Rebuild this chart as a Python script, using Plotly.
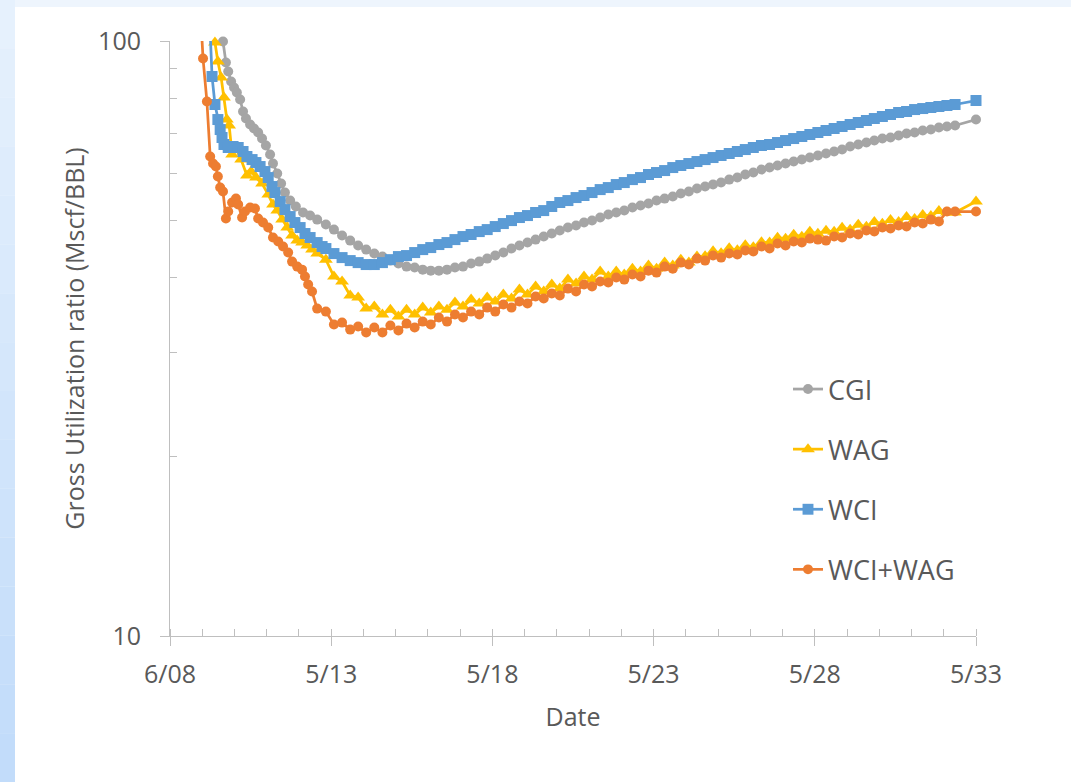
import plotly.graph_objects as go
from datetime import datetime, timedelta

# ---------------- data ----------------
# early (irregular) report times, decimal years
cgi_early_years = [2010.06, 2010.15, 2010.22, 2010.31, 2010.40, 2010.49, 2010.59, 2010.68, 2010.77, 2010.90,
                   2011.02, 2011.15, 2011.27, 2011.39, 2011.52, 2011.61, 2011.74, 2011.86, 2011.98, 2012.14,
                   2012.32, 2012.54, 2012.76, 2012.98]
cgi_early_values = [99.8, 92.02, 88.87, 85.50, 83.53, 81.94, 79.73, 76.12, 74.08, 72.39,
                    71.27, 70.18, 68.56, 66.74, 64.45, 62.24, 59.88, 57.60, 55.63, 53.93,
                    52.70, 51.49, 50.89, 50.10]

wag_early_years = [2009.81, 2009.90, 2010.00, 2010.09, 2010.18, 2010.25, 2010.34, 2010.46, 2010.62, 2010.80,
                   2010.93, 2011.08, 2011.27, 2011.46, 2011.61, 2011.74, 2011.89, 2012.05, 2012.20, 2012.36,
                   2012.51, 2012.67, 2012.82, 2012.98]
wag_early_values = [99.44, 92.37, 86.83, 80.36, 73.79, 72.11, 64.45, 65.96, 63.20, 59.41,
                    60.34, 58.95, 57.60, 55.20, 53.11, 51.88, 50.10, 48.58, 47.10, 46.19,
                    45.84, 45.31, 44.61, 43.93]

wci_early_years = [2009.63, 2009.72, 2009.81, 2009.90, 2009.97, 2010.03, 2010.09, 2010.22, 2010.37, 2010.53,
                   2010.68, 2010.80, 2010.96, 2011.08, 2011.21, 2011.36, 2011.46, 2011.58, 2011.67, 2011.83,
                   2011.98, 2012.14, 2012.29, 2012.45, 2012.60, 2012.76, 2012.98, 2013.13]
wci_early_values = [113.0, 87.17, 78.21, 73.79, 70.99, 68.83, 67.00, 66.22, 66.48, 66.22,
                    65.20, 63.95, 63.20, 62.48, 61.52, 60.34, 58.95, 56.94, 55.63, 53.72,
                    52.08, 50.69, 49.53, 48.58, 47.47, 46.74, 45.84, 45.14]

wcig_early_years = [2009.35, 2009.44, 2009.56, 2009.66, 2009.75, 2009.84, 2009.90, 2009.97, 2010.06, 2010.15,
                    2010.22, 2010.34, 2010.46, 2010.53, 2010.65, 2010.74, 2010.90, 2011.05, 2011.15, 2011.30,
                    2011.46, 2011.61, 2011.77, 2011.92, 2012.08, 2012.20, 2012.36, 2012.51, 2012.60, 2012.70,
                    2012.82, 2012.98]
wcig_early_values = [115.0, 93.45, 79.12, 63.95, 62.24, 61.52, 59.18, 56.71, 55.84, 50.30,
                     51.68, 53.52, 54.34, 53.11, 50.50, 51.68, 52.49, 52.29, 50.30, 49.53,
                     48.58, 46.74, 46.02, 45.14, 44.10, 42.58, 41.77, 41.28, 40.19, 38.96,
                     37.92, 35.50]

# quarterly report dates (shared)
quarter_dates = [
    "2013-04", "2013-07", "2013-10",
    "2014-01", "2014-04", "2014-07", "2014-10",
    "2015-01", "2015-04", "2015-07", "2015-10",
    "2016-01", "2016-04", "2016-07", "2016-10",
    "2017-01", "2017-04", "2017-07", "2017-10",
    "2018-01", "2018-04", "2018-07", "2018-10",
    "2019-01", "2019-04", "2019-07", "2019-10",
    "2020-01", "2020-04", "2020-07", "2020-10",
    "2021-01", "2021-04", "2021-07", "2021-10",
    "2022-01", "2022-04", "2022-07", "2022-10",
    "2023-01", "2023-04", "2023-07", "2023-10",
    "2024-01", "2024-04", "2024-07", "2024-10",
    "2025-01", "2025-04", "2025-07", "2025-10",
    "2026-01", "2026-04", "2026-07", "2026-10",
    "2027-01", "2027-04", "2027-07", "2027-10",
    "2028-01", "2028-04", "2028-07", "2028-10",
    "2029-01", "2029-04", "2029-07", "2029-10",
    "2030-01", "2030-04", "2030-07", "2030-10",
    "2031-01", "2031-04", "2031-07", "2031-10",
    "2032-01", "2032-04", "2032-07", "2032-10",
    "2033-05-26",
]

cgi_q = [49.15, 48.20, 47.10,
         46.19, 45.31, 44.61, 43.93,
         43.42, 42.75, 42.26, 41.77,
         41.61, 41.28, 41.12, 41.12,
         41.28, 41.61, 41.77, 42.26,
         42.58, 43.08, 43.59, 44.10,
         44.79, 45.31, 45.84, 46.37,
         46.92, 47.47, 48.02, 48.58,
         48.96, 49.53, 49.91, 50.50,
         51.09, 51.49, 51.88, 52.49,
         52.90, 53.31, 53.93, 54.34,
         54.77, 55.41, 55.84, 56.49,
         56.94, 57.38, 57.82, 58.49,
         58.95, 59.65, 60.11, 60.80,
         61.28, 61.76, 62.24, 62.72,
         63.20, 63.70, 64.20, 64.70,
         65.20, 65.70, 66.48, 67.00,
         67.51, 68.03, 68.56, 68.83,
         69.37, 69.91, 70.18, 70.72,
         70.99, 71.55, 71.83, 72.11,
         73.79]

wag_q = [42.91, 40.19, 39.42,
         37.34, 37.05, 35.50, 35.78,
         34.69, 35.36, 34.42, 35.36,
         34.69, 35.64, 34.96, 35.78,
         35.36, 36.34, 35.78, 36.76,
         36.20, 37.05, 36.48, 37.49,
         36.91, 38.21, 37.49, 38.66,
         37.92, 38.97, 38.36, 39.72,
         39.12, 40.19, 39.72, 40.97,
         40.19, 40.97, 40.50, 41.44,
         40.97, 41.93, 41.44, 42.42,
         41.93, 42.91, 42.42, 43.42,
         43.48, 44.33, 43.99, 44.84,
         44.50, 45.36, 45.01, 45.89,
         45.84, 46.72, 46.54, 47.25,
         46.89, 47.80, 47.44, 47.99,
         47.80, 48.53, 48.17, 49.09,
         48.72, 49.66, 49.28, 50.04,
         49.66, 50.61, 50.23, 51.00,
         50.80, 51.79, 51.49, 51.49,
         53.72]

wci_q = [44.79, 43.93, 43.25,
         42.75, 42.42, 42.10, 42.10,
         42.42, 42.91, 43.42, 43.59,
         44.10, 44.61, 44.96, 45.49,
         45.84, 46.37, 46.92, 47.29,
         47.83, 48.20, 48.77, 49.34,
         49.91, 50.50, 50.89, 51.49,
         51.88, 52.70, 53.52, 53.93,
         54.56, 54.99, 55.63, 56.27,
         56.71, 57.38, 57.82, 58.49,
         58.95, 59.65, 60.11, 60.57,
         61.28, 61.76, 62.24, 62.72,
         63.20, 63.70, 64.20, 64.70,
         65.20, 65.70, 66.22, 66.74,
         67.00, 67.51, 68.03, 68.56,
         69.10, 69.64, 70.18, 70.72,
         71.27, 71.83, 72.39, 72.95,
         73.51, 74.08, 74.66, 75.25,
         75.83, 76.12, 76.70, 77.00,
         77.31, 77.61, 77.91, 78.21,
         79.43]

wcig_q = [35.09, 33.38, 33.63,
          32.73, 33.12, 32.36, 32.99,
          32.36, 33.25, 32.61, 33.50,
          32.99, 33.76, 33.38, 34.29,
          33.76, 34.69, 34.29, 35.09,
          34.69, 35.64, 35.09, 36.06,
          35.64, 36.48, 36.20, 37.20,
          36.91, 37.63, 37.34, 38.36,
          37.92, 38.97, 38.66, 39.42,
          39.27, 40.03, 39.72, 40.50,
          40.19, 41.12, 40.81, 41.77,
          41.44, 42.42, 42.10, 43.08,
          42.75, 43.59, 43.25, 43.93,
          43.76, 44.44, 44.27, 45.14,
          44.79, 45.67, 45.31, 46.02,
          45.84, 46.55, 46.37, 46.19,
          46.92, 46.74, 47.47, 47.29,
          48.02, 47.83, 48.58, 48.39,
          48.96, 48.77, 49.53, 49.34,
          50.10, 49.72, 51.68, 51.68,
          51.68]

series_names = ["CGI", "WAG", "WCI", "WCI+WAG"]
y_tick_values = [10, 100]
y_minor_values = [20, 30, 40, 50, 60, 70, 80, 90]


def to_dates(years):
    out = []
    for d in years:
        y = int(d)
        out.append((datetime(y, 1, 1) + timedelta(days=(d - y) * 365.25)).strftime("%Y-%m-%d"))
    return out


series = [
    (series_names[0], cgi_early_years, cgi_early_values, cgi_q, "#A5A5A5", "circle", 10),
    (series_names[1], wag_early_years, wag_early_values, wag_q, "#FFC000", "triangle-up", 12),
    (series_names[2], wci_early_years, wci_early_values, wci_q, "#5B9BD5", "square", 11),
    (series_names[3], wcig_early_years, wcig_early_values, wcig_q, "#ED7D31", "circle", 10),
]

fig = go.Figure()
for i, (name, ey, ev, qv, color, symbol, msize) in enumerate(series):
    xs = to_dates(ey) + quarter_dates
    ys = ev + qv
    sizes = [0 if v > 100 else msize for v in ys]
    fig.add_trace(go.Scatter(
        x=xs, y=ys, name=name, mode="lines+markers",
        line=dict(color=color, width=2.75),
        marker=dict(color=color, symbol=symbol, size=sizes, opacity=1, line=dict(width=0)),
        cliponaxis=False, legendgroup=f"g{i}",
    ))

# ---------------- background ----------------
W, H = 1071, 782
L, R, T, B = 170, 95, 41, 146
pw, ph = W - L - R, H - T - B


def px_x(p):
    return (p - L) / pw


def px_y(p):
    return (H - B - p) / ph


shapes = []
n = 16
for k in range(n):
    f = k / (n - 1)
    r = int(0xe6 + (0xc2 - 0xe6) * f)
    g = int(0xf1 + (0xdc - 0xf1) * f)
    b = int(0xfd + (0xfa - 0xfd) * f)
    shapes.append(dict(type="rect", xref="paper", yref="paper",
                       x0=px_x(0), x1=px_x(15), y0=px_y(H * (k + 1) / n), y1=px_y(H * k / n),
                       fillcolor=f"rgb({r},{g},{b})", line=dict(width=0), layer="below"))
shapes.append(dict(type="rect", xref="paper", yref="paper",
                   x0=px_x(15), x1=px_x(W + 2), y0=px_y(H + 2), y1=px_y(7),
                   fillcolor="white", line=dict(width=0), layer="below"))

axis_color = "#BFBFBF"
text_color = "#595959"
fig.update_layout(
    width=W, height=H,
    margin=dict(l=L, r=R, t=T, b=B, autoexpand=False),
    paper_bgcolor="#eef5fd", plot_bgcolor="white",
    font=dict(family="Open Sans", color=text_color, size=25),
    shapes=shapes,
    showlegend=True,
    legend=dict(x=px_x(788), y=px_y(365), xanchor="left", yanchor="top",
                bgcolor="rgba(0,0,0,0)", font=dict(size=27, color=text_color),
                traceorder="grouped", tracegroupgap=22),
    xaxis=dict(
        type="date", range=["2008-06-01", "2033-05-26"],
        tick0="2008-06-01", dtick=1825 * 86400000, tickformat="%-m/%y",
        showgrid=False, zeroline=False, showline=True, linecolor=axis_color, linewidth=1,
        ticks="outside", ticklen=9, tickcolor=axis_color, tickwidth=1,
        ticklabelstandoff=7,
        minor=dict(tick0="2008-06-01", dtick=365 * 86400000, ticks="inside", ticklen=7,
                   tickcolor=axis_color, tickwidth=1, showgrid=False),
        title=dict(text="Date", standoff=19, font=dict(size=25, color=text_color)),
        tickfont=dict(size=25, color=text_color),
    ),
    yaxis=dict(
        type="log", range=[1, 2],
        tickmode="array", tickvals=y_tick_values,
        showgrid=False, zeroline=False, showline=True, linecolor=axis_color, linewidth=1,
        ticks="outside", ticklen=9, tickcolor=axis_color, tickwidth=1,
        ticklabelstandoff=14,
        minor=dict(tickmode="array", tickvals=y_minor_values, ticks="inside", ticklen=7,
                   tickcolor=axis_color, tickwidth=1, showgrid=False),
        title=dict(text="Gross Utilization ratio (Mscf/BBL)", standoff=6,
                   font=dict(size=25, color=text_color)),
        tickfont=dict(size=25, color=text_color),
    ),
)

fig.write_html("out.html", config={"displayModeBar": False},
               post_script="document.body.style.margin='0px';")
